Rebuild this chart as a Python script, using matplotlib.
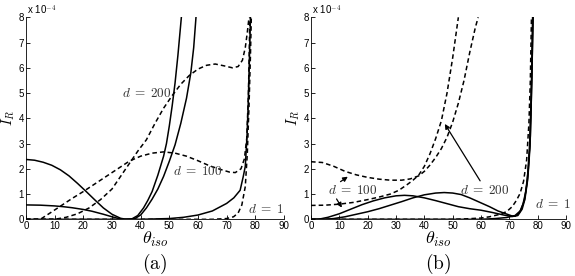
import matplotlib
matplotlib.use("Agg")
import matplotlib.pyplot as plt

plt.rcParams['font.family'] = ['Liberation Sans', 'DejaVu Sans']
plt.rcParams['mathtext.fontset'] = 'cm'

# ---- panel (a) data, I_R in units of 1e-4 ----
a_s1_th = [0, 3, 6, 9, 12, 15, 18, 21, 24, 27, 30, 33, 35, 37, 39, 41, 42.5, 44, 46, 48, 49, 50, 51, 52, 53, 54.2]
a_s1_v = [2.37, 2.34, 2.26, 2.14, 1.96, 1.72, 1.42, 1.1, 0.77, 0.45, 0.2, 0.04, 0.0, 0.02, 0.15, 0.45, 0.75, 1.1, 1.75, 2.5, 3.0, 3.7, 4.5, 5.4, 6.5, 8.0]
a_s2_th = [0, 5, 10, 13, 16, 20, 23, 27, 30, 32, 34, 36, 38, 40, 42, 44, 46, 48, 50, 52, 54, 56, 57.5, 58.5, 59.3]
a_s2_v = [0.57, 0.56, 0.53, 0.5, 0.46, 0.39, 0.32, 0.2, 0.1, 0.04, 0.0, 0.0, 0.03, 0.17, 0.45, 0.8, 1.2, 1.7, 2.3, 2.95, 3.8, 4.8, 5.8, 6.8, 8.0]
a_s3_th = [0, 40, 50, 55, 60, 65, 70, 72.5, 74.7, 75.8, 76.5, 77.1, 77.5, 77.9, 78.3]
a_s3_v = [0, 0, 0.03, 0.08, 0.17, 0.33, 0.63, 0.85, 1.15, 1.7, 2.1, 3.3, 4.5, 6.2, 8.0]
a_d200_th = [0, 10, 14, 18, 22, 26, 30, 33, 36, 39, 42, 45, 48, 51, 54, 57, 60, 63, 66, 69, 72, 74, 75.5, 76.5, 77.2, 77.8]
a_d200_v = [0, 0, 0.08, 0.22, 0.45, 0.78, 1.2, 1.7, 2.2, 2.7, 3.15, 3.8, 4.4, 4.9, 5.35, 5.7, 5.95, 6.1, 6.15, 6.08, 6.0, 6.05, 6.3, 6.8, 7.4, 8.0]
a_d100_th = [0, 5, 8, 12, 16, 20, 24, 28, 32, 36, 40, 44, 48, 52, 56, 60, 64, 68, 71, 73, 75, 76.2, 77, 77.6, 78.1]
a_d100_v = [0, 0, 0.22, 0.52, 0.82, 1.1, 1.4, 1.7, 2.0, 2.3, 2.5, 2.62, 2.67, 2.62, 2.5, 2.32, 2.12, 1.97, 1.87, 1.85, 2.0, 2.4, 3.2, 5.0, 8.0]
a_d1_th = [0, 65, 70, 72.4, 74, 75.3, 76.5, 77.2, 77.8, 78.3, 78.6]
a_d1_v = [0, 0, 0.03, 0.1, 0.25, 0.57, 1.3, 2.6, 4.5, 6.5, 8.0]

# ---- panel (b) data ----
b_dA_th = [0, 4, 8, 12, 16, 20, 24, 28, 32, 35, 38, 40, 42, 44, 46, 48, 50, 52, 54, 56, 58, 59]
b_dA_v = [2.28, 2.25, 2.1, 1.9, 1.76, 1.66, 1.59, 1.55, 1.55, 1.6, 1.72, 1.9, 2.15, 2.45, 2.8, 3.25, 3.85, 4.6, 5.5, 6.6, 7.6, 8.0]
b_dB_th = [0, 5, 10, 15, 20, 24, 28, 31, 34, 36, 38, 40, 42, 44, 46, 48, 50, 51, 52]
b_dB_v = [0.55, 0.56, 0.6, 0.67, 0.78, 0.88, 1.0, 1.15, 1.38, 1.55, 1.75, 2.1, 2.6, 3.2, 3.9, 5.0, 6.4, 7.2, 8.0]
b_sP_th = [0, 3, 6, 10, 14, 18, 22, 26, 30, 33, 36, 40, 44, 48, 52, 56, 60, 64, 68, 71, 73, 74.5, 75.5, 76.5, 77.3, 77.7, 78, 78.3]
b_sP_v = [0, 0.01, 0.08, 0.22, 0.4, 0.58, 0.73, 0.85, 0.93, 0.95, 0.93, 0.85, 0.74, 0.62, 0.5, 0.42, 0.36, 0.27, 0.17, 0.11, 0.15, 0.4, 0.8, 1.6, 2.9, 4.5, 6.0, 8.0]
b_sQ_th = [0, 5, 8, 12, 16, 20, 24, 28, 32, 36, 40, 44, 47, 50, 53, 56, 60, 63, 66, 69, 71, 72, 73.5, 74.8, 75.8, 76.7, 77.4, 77.8, 78.1, 78.4]
b_sQ_v = [0, 0, 0.03, 0.1, 0.2, 0.3, 0.42, 0.56, 0.7, 0.85, 0.97, 1.04, 1.06, 1.04, 0.98, 0.85, 0.65, 0.5, 0.33, 0.21, 0.13, 0.12, 0.25, 0.6, 1.1, 2.0, 3.3, 5.0, 6.5, 8.0]
b_sR_th = [0, 60, 65, 69, 72, 74, 75.3, 76.3, 77.1, 77.6, 77.9, 78.2]
b_sR_v = [0, 0, 0.03, 0.07, 0.15, 0.35, 0.75, 1.5, 2.8, 4.5, 6.0, 8.0]
b_dC_th = [0, 50, 55, 60, 63, 66, 69, 71, 72.5, 73.8, 75, 76.1, 76.9, 77.4, 77.8]
b_dC_v = [0, 0, 0.02, 0.05, 0.1, 0.18, 0.3, 0.5, 0.75, 1.03, 1.5, 2.35, 3.8, 5.5, 8.0]

xticks = [0, 10, 20, 30, 40, 50, 60, 70, 80, 90]
yticks = [0, 1, 2, 3, 4, 5, 6, 7, 8]

fig = plt.figure(figsize=(5.75, 2.76), dpi=100)
ax1 = fig.add_axes([0.0452, 0.2054, 0.4487, 0.7319])
ax2 = fig.add_axes([0.5409, 0.2054, 0.4435, 0.7319])

solid = dict(color='k', lw=1.1)
dashed = dict(color='k', lw=1.1, ls=(0, (3, 2)))

ax1.plot(a_s1_th, a_s1_v, **solid)
ax1.plot(a_s2_th, a_s2_v, **solid)
ax1.plot(a_s3_th, a_s3_v, **solid)
ax1.plot(a_d200_th, a_d200_v, **dashed)
ax1.plot(a_d100_th, a_d100_v, **dashed)
ax1.plot(a_d1_th, a_d1_v, **dashed)

ax2.plot(b_dA_th, b_dA_v, **dashed)
ax2.plot(b_dB_th, b_dB_v, **dashed)
ax2.plot(b_dC_th, b_dC_v, **dashed)
ax2.plot(b_sP_th, b_sP_v, **solid)
ax2.plot(b_sQ_th, b_sQ_v, **solid)
ax2.plot(b_sR_th, b_sR_v, **solid)

lab = dict(fontsize=9.5, color='#333333')
ax1.text(50.6, 5.0, r'$d\;=\;200$', ha='right', va='center', **lab)
ax1.text(51.3, 1.88, r'$d\;=\;100$', ha='left', va='center', **lab)
ax1.text(77.4, 0.37, r'$d\;=\;1$', ha='left', va='center', **lab)

ax2.text(6.0, 1.13, r'$d\;=\;100$', ha='left', va='center', **lab)
ax2.text(52.6, 1.13, r'$d\;=\;200$', ha='left', va='center', **lab)
ax2.text(79.0, 0.57, r'$d\;=\;1$', ha='left', va='center', **lab)

arr = dict(arrowstyle='-|>', color='k', lw=0.9, mutation_scale=7)
ax2.annotate('', xy=(13.8, 1.75), xytext=(9.6, 1.43), arrowprops=arr)
ax2.annotate('', xy=(11.4, 0.37), xytext=(8.5, 0.9), arrowprops=arr)
ax2.annotate('', xy=(46.7, 3.87), xytext=(60.2, 1.43), arrowprops=arr)

for ax, tag in [(ax1, '(a)'), (ax2, '(b)')]:
    ax.set_xlim(0, 90)
    ax.set_ylim(0, 8)
    ax.set_xticks(xticks)
    ax.set_yticks(yticks)
    ax.tick_params(direction='in', length=3, width=0.6, labelsize=7, pad=1.5)
    ax.spines['top'].set_visible(False)
    ax.spines['right'].set_visible(False)
    ax.spines['left'].set_linewidth(0.6)
    ax.spines['bottom'].set_linewidth(0.6)
    ax.text(0.005, 1.0, r'x 10$^{-4}$', transform=ax.transAxes, fontsize=7,
            ha='left', va='bottom')
    ax.set_ylabel(r'$I_R$', fontsize=10.5)
    ax.yaxis.set_label_coords(-0.034, 0.5)
    ax.set_xlabel(r'$\theta_{iso}$', fontsize=13, labelpad=-1)
    pos = ax.get_position()
    fig.text(pos.x0 + pos.width / 2, 0.045, r'$\mathrm{' + tag + '}$',
             fontsize=14, ha='center', va='center')

fig.savefig('out.png', dpi=100)
